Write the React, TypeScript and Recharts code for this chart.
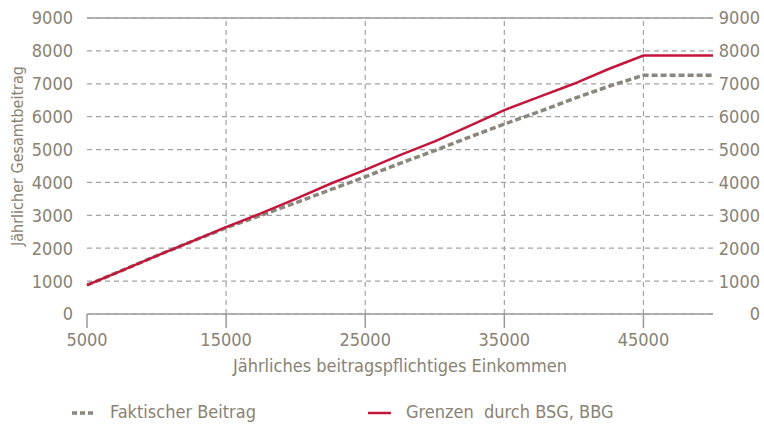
import { CartesianGrid, Legend, Line, LineChart, ReferenceLine, XAxis, YAxis } from "recharts"

const incomes = [5000, 7500, 10000, 12500, 15000, 17500, 20000, 22500, 25000, 27500, 30000, 32500, 35000, 37500, 40000, 42500, 45000, 47500, 50000]
const faktisch = [880, 1320, 1770, 2200, 2620, 3000, 3380, 3780, 4170, 4580, 4970, 5380, 5775, 6150, 6550, 6920, 7260, 7260, 7260]
const grenzen = [880, 1320, 1770, 2200, 2640, 3060, 3500, 3960, 4380, 4830, 5250, 5720, 6200, 6600, 7000, 7450, 7860, 7860, 7860]

const xTicks = [5000, 15000, 25000, 35000, 45000]
const yTicks = [0, 1000, 2000, 3000, 4000, 5000, 6000, 7000, 8000, 9000]
const xGridLines = [15000, 25000, 35000, 45000]

const data = incomes.map((x, i) => ({ x, faktisch: faktisch[i], grenzen: grenzen[i] }))

const FONT = "'DejaVu Sans Condensed', 'DejaVu Sans', sans-serif"
const TEXT = "#8a8272"
const GRID = "#a3a3a3"
const RED = "#c4163c"
const GREY = "#8c877c"

function LegendContent() {
  return (
    <div style={{ position: "relative", width: 764, height: 50, fontFamily: FONT, fontSize: 18, color: TEXT }}>
      <svg style={{ position: "absolute", left: 72, top: 37 }} width={24} height={4}>
        <line x1={0} y1={2} x2={24} y2={2} stroke={GREY} strokeWidth={3.5} strokeDasharray="5 3" />
      </svg>
      <span style={{ position: "absolute", left: 110, top: 28, lineHeight: "20px" }}>Faktischer Beitrag</span>
      <svg style={{ position: "absolute", left: 368, top: 37 }} width={23} height={4}>
        <line x1={0} y1={2} x2={23} y2={2} stroke={RED} strokeWidth={2.5} />
      </svg>
      <span style={{ position: "absolute", left: 406, top: 28, lineHeight: "20px" }}>Grenzen&nbsp; durch BSG, BBG</span>
    </div>
  )
}

export default function App() {
  return (
    <div style={{ position: "absolute", left: 0, top: 0, width: 764, height: 424, background: "#fff" }}>
      <LineChart width={764} height={424} data={data} margin={{ top: 18, right: 0, bottom: 0, left: 0 }}>
        <CartesianGrid yAxisId="left" vertical={false} stroke={GRID} strokeDasharray="5 4" strokeWidth={1.2} />
        <XAxis
          dataKey="x"
          type="number"
          domain={[5000, 50000]}
          ticks={xTicks}
          height={60}
          stroke="#9a9a9a"
          strokeWidth={1.5}
          tickSize={14}
          tickMargin={5}
          tick={{ fill: TEXT, fontSize: 18, fontFamily: FONT }}
          label={{ value: "Jährliches beitragspflichtiges  Einkommen", position: "insideBottom", offset: 2, fill: TEXT, fontSize: 18, fontFamily: FONT }}
        />
        <YAxis
          yAxisId="left"
          domain={[0, 9000]}
          ticks={yTicks}
          width={87}
          axisLine={false}
          tickLine={false}
          tickSize={0}
          tickMargin={14}
          tick={{ fill: TEXT, fontSize: 18, fontFamily: FONT }}
          label={{
            content: () => (
              <text x={17} y={156} transform="rotate(-90 17 156)" textAnchor="middle" dominantBaseline="central" fill={TEXT} fontSize={16} fontFamily={FONT}>
                Jährlicher Gesamtbeitrag
              </text>
            ),
          }}
        />
        <YAxis
          yAxisId="right"
          orientation="right"
          domain={[0, 9000]}
          ticks={yTicks}
          width={51}
          axisLine={false}
          tickLine={false}
          tickSize={0}
          tickMargin={47}
          tick={{ fill: TEXT, fontSize: 18, fontFamily: FONT, textAnchor: "end" }}
        />
        {xGridLines.map((v) => (
          <ReferenceLine key={v} yAxisId="left" x={v} stroke={GRID} strokeDasharray="5 4" strokeWidth={1.2} />
        ))}
        <ReferenceLine yAxisId="left" y={9000} stroke="#9a9a9a" strokeWidth={1.5} />
        <Legend verticalAlign="bottom" wrapperStyle={{ left: 0, width: 764 }} content={() => <LegendContent />} />
        <Line
          yAxisId="left"
          type="linear"
          dataKey="faktisch"
          name="Faktischer Beitrag"
          stroke={GREY}
          strokeWidth={3.5}
          strokeDasharray="6 3"
          dot={false}
          isAnimationActive={false}
        />
        <Line
          yAxisId="right"
          type="linear"
          dataKey="grenzen"
          name="Grenzen durch BSG, BBG"
          stroke={RED}
          strokeWidth={2.5}
          dot={false}
          isAnimationActive={false}
        />
      </LineChart>
    </div>
  )
}
